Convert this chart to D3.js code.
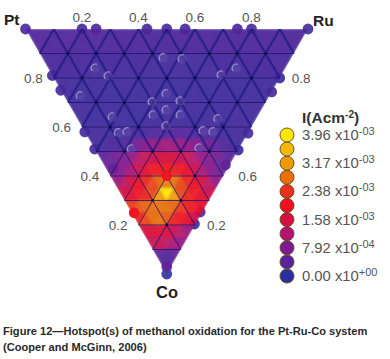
<!DOCTYPE html>
<html><head><meta charset="utf-8">
<script src="https://cdn.jsdelivr.net/npm/d3@7/dist/d3.min.js"></script>
<style>html,body{margin:0;background:#fff}svg{display:block}text{font-family:"Liberation Sans",Arial,sans-serif}</style>
</head><body><svg id="c" width="390" height="359"></svg>
<script>
// current density in units of 1e-3 A/cm2
const legendValues=[0,0.396,0.792,1.188,1.584,1.98,2.376,2.772,3.168,3.564,3.96];
const legendColors=['#2a2f9e','#5a2399','#7d1a90','#b3146f','#d4103f','#ee1020','#e8331c','#e86f0a','#ee9a08','#f2b908','#ffe600'];
const legendLabels=[['0.00','+00',0],['7.92','-04',2],['1.58','-03',4],['2.38','-03',6],['3.17','-03',8],['3.96','-03',10]];
const topTicks=[0.2,0.4,0.6,0.8];
const leftTicks=[0.8,0.6,0.4,0.2];
// right-side labels as printed, with the Co level they sit at
const rightTicks=[[0.8,0.2],[0.6,0.6],[0.2,0.8]];
// coarse cells: 10 divisions per side, first four rows from Pt-Ru edge
const coarseRows=[
[.32,.30,.32,.30,.32,.28,.30,.28,.28,.26,.28,.26,.28,.28,.30,.28,.30,.30,.30],
[.24,.22,.24,.20,.22,.20,.22,.20,.20,.20,.20,.20,.22,.20,.22,.22,.24],
[.20,.16,.18,.16,.18,.16,.18,.16,.16,.18,.16,.18,.16,.18,.18],
[.20,.16,.18,.16,.16,.18,.20,.18,.18,.18,.18,.20,.20]];
// fine cells: 20 divisions per side, rows 8 to 19
const fineRows=[
[.2,.2,.2,.2,.2,.2,.22,.25,.25,.3,.32,.36,.36,.36,.32,.3,.3,.25,.25,.2,.2,.2,.2],
[.2,.2,.25,.25,.3,.45,.7,.85,.95,1.0,1.05,1.05,1.0,.95,.85,.8,.65,.45,.3,.25,.2],
[.4,.55,.7,.8,.95,1.2,1.4,1.5,1.6,1.6,1.6,1.5,1.4,1.2,.95,.8,.7,.55,.4],
[.55,.75,.9,1.1,1.5,1.8,2.0,2.05,2.05,2.1,2.0,1.85,1.5,1.1,.9,.75,.55],
[1.0,1.3,1.6,1.9,2.2,2.5,2.7,2.9,2.8,2.5,2.2,1.95,1.6,1.25,.95],
[1.6,1.8,2.0,2.2,2.5,3.2,3.96,3.2,2.5,2.2,2.0,1.8,1.5],
[2.4,2.6,2.7,2.75,2.8,2.8,2.7,2.4,2.1,2.0,1.8],
[2.2,2.5,2.75,2.8,2.6,2.2,2.0,1.85,1.5],
[1.65,1.7,1.7,1.65,1.45,1.25,1.0],
[1.4,1.45,1.3,1.1,.95],
[.45,.25,.45],
[.5]];
// measured compositions [Ru, Co, current]
const edgePoints=[[0,0,.25],[.2,0,.25],[.25,0,.25],[.43,0,.25],[.5,0,.25],[.565,0,.25],[.75,0,.25],[.8,0,.25],[1,0,.2],
[0,.19,.22],[0,.25,.22],[0,.42,.22],[0,.49,.22],[.025,.57,.15],[.575,.425,.2],[.506,.494,.1],[.8,.2,.1],[.743,.257,.2],[.43,.555,.2],
[.245,.747,.35],[.2,.796,.1],[.015,.97,.4],[0,1,.05],[.01,.75,2.0]];
const hiPoints=[[.167,.16],[.197,.192],[.429,.118],[.494,.122],[.058,.273],[.30,.298],[.366,.265],[.333,.331],[.401,.294],[.277,.351],[.373,.351],[.128,.359],[.117,.424],[.15,.42],[.13,.49],[.30,.396],[.666,.16],[.599,.188],[.498,.367],[.421,.416],[.454,.42],[.372,.486]];
const hotPoints=[[.2,.6,2.0]];

const svg=d3.select('#c');
const sx=d3.scaleLinear().domain([0,1]).range([25.5,308]);
const sy=d3.scaleLinear().domain([0,1]).range([29,274]);
const X=(ru,co)=>sx(ru+co/2), Y=co=>sy(co);
const color=d3.scaleLinear().domain(legendValues).range(legendColors);
const defs=svg.append('defs');
defs.append('filter').attr('id','b1').attr('x','-5%').attr('y','-5%').attr('width','110%').attr('height','110%').append('feGaussianBlur').attr('stdDeviation',1.3);
defs.append('filter').attr('id','b2').append('feGaussianBlur').attr('stdDeviation',.45);
defs.append('clipPath').attr('id','tri').append('path').attr('d',`M${X(0,0)},${Y(0)}L${X(1,0)},${Y(0)}L${X(0,1)},${Y(1)}Z`);
defs.append('clipPath').attr('id','upper').append('rect').attr('x',0).attr('y',0).attr('width',390).attr('height',Y(.5));

function cell(n,r,j){
  const k=Math.floor(j/2), p=(ru,co)=>[X(ru/n,co/n),Y(co/n)];
  const v=j%2===0?[p(k,r),p(k+1,r),p(k,r+1)]:[p(k+1,r),p(k,r+1),p(k+1,r+1)];
  return d3.line()(v)+'Z';
}
// measured points sit under the surface so they only bulge past its edge
const pts0=svg.append('g').attr('opacity',.9).attr('filter','url(#b2)');
edgePoints.forEach(d=>pts0.append('circle').attr('cx',X(d[0],d[1])).attr('cy',Y(d[1])).attr('r',5.4).attr('fill',color(d[2])));

const surf=svg.append('g').attr('clip-path','url(#tri)').attr('opacity',.94).append('g').attr('filter','url(#b1)');
surf.append('path').attr('d',`M${X(0,0)},${Y(0)}L${X(1,0)},${Y(0)}L${X(0,1)},${Y(1)}Z`).attr('fill',color(.2));
coarseRows.forEach((row,r)=>row.forEach((v,j)=>surf.append('path').attr('d',cell(10,r,j)).attr('fill',color(v)).attr('stroke',color(v)).attr('stroke-width',.5)));
fineRows.forEach((row,i)=>row.forEach((v,j)=>surf.append('path').attr('d',cell(20,i+8,j)).attr('fill',color(v)).attr('stroke',color(v)).attr('stroke-width',.5)));

// grid
const gridT=d3.range(1,10).map(d=>d/10);
const segs=[];
gridT.forEach(t=>{
  segs.push([[0,t],[1-t,t]]);       // constant Co
  segs.push([[t,0],[t,1-t]]);       // constant Ru
  segs.push([[t,0],[0,t]]);         // constant Pt
});
const P=d=>[X(d[0],d[1]),Y(d[1])];
const halo=svg.append('g').attr('clip-path','url(#upper)').append('g').attr('clip-path','url(#tri)');
segs.forEach(s=>halo.append('path').attr('d',d3.line()(s.map(P))).attr('fill','none').attr('stroke','#1a1a8c').attr('stroke-width',3).attr('stroke-opacity',.35).attr('filter','url(#b2)'));
const grid=svg.append('g').attr('filter','url(#b2)');
segs.forEach(s=>grid.append('path').attr('d',d3.line()(s.map(P))).attr('fill','none').attr('stroke','#16126a').attr('stroke-width',.95).attr('stroke-opacity',.8));
gridT.forEach(co=>d3.range(1,Math.round((1-co)*10)).forEach(k=>grid.append('circle').attr('cx',X(k/10,co)).attr('cy',Y(co)).attr('r',1.4).attr('fill','#0a0a40')));

// points shown over the surface
const pts=svg.append('g').attr('filter','url(#b2)');
hotPoints.forEach(d=>pts.append('circle').attr('cx',X(d[0],d[1])).attr('cy',Y(d[1])).attr('r',5).attr('fill',color(d[2])));
edgePoints.filter(d=>d[2]>1).forEach(d=>pts.append('circle').attr('cx',X(d[0],d[1])).attr('cy',Y(d[1])).attr('r',5).attr('fill',color(d[2])));
const arc=d3.arc().innerRadius(3.6).outerRadius(4.7).startAngle(-2.3).endAngle(.4);
hiPoints.forEach(d=>{
  pts.append('circle').attr('cx',X(d[0],d[1])).attr('cy',Y(d[1])).attr('r',4.7).attr('fill','#5c4aa8').attr('fill-opacity',.55);
  pts.append('path').attr('d',arc()).attr('transform',`translate(${X(d[0],d[1])},${Y(d[1])})`).attr('fill','#b3a8dc').attr('fill-opacity',.75);
});

// labels
const tick=(x,y,t,a='middle')=>svg.append('text').attr('x',x).attr('y',y).attr('text-anchor',a).attr('font-size',13.5).attr('fill','#555').text(t);
topTicks.forEach(t=>tick(X(t,0),22,t.toFixed(1)));
leftTicks.forEach(t=>tick(X(0,1-t)-11,Y(1-t)+4.5,t.toFixed(1),'end'));
rightTicks.forEach(d=>tick(X(1-d[1],d[1])+(d[0]===0.6?15:12),Y(d[1])+4.5,d[0].toFixed(1),'start'));
const vert=(x,y,t,a,s)=>svg.append('text').attr('x',x).attr('y',y).attr('text-anchor',a).attr('font-size',s).attr('font-weight','bold').attr('fill','#222').text(t);
vert(4,25,'Pt','start',15.5); vert(313,26,'Ru','start',15.5); vert(167,298,'Co','middle',16.5);

// legend
const ly=d3.scaleLinear().domain([0,10]).range([276,135]);
const lg=svg.append('g');
legendValues.forEach((v,i)=>lg.append('circle').attr('cx',287).attr('cy',ly(i)).attr('r',7).attr('fill',color(v)).attr('stroke','#5a4a20').attr('stroke-width',.9));
const title=svg.append('text').attr('x',302).attr('y',123).attr('font-size',15.5).attr('font-weight','bold').attr('fill','#333');
title.append('tspan').text('I(Acm');
title.append('tspan').attr('dy',-5).attr('font-size',10).text('-2');
title.append('tspan').attr('dy',5).text(')');
legendLabels.forEach(d=>{
  const t=svg.append('text').attr('x',302).attr('y',ly(d[2])+5).attr('font-size',14.8).attr('fill','#555');
  t.append('tspan').text(d[0]+' x10');
  t.append('tspan').attr('dy',-5).attr('font-size',11).text(d[1]);
});

// caption
[['Figure 12\u2014Hotspot(s) of methanol oxidation for the Pt-Ru-Co system',334.5],['(Cooper and McGinn, 2006)',351]].forEach(d=>
  svg.append('text').attr('x',3).attr('y',d[1]).attr('font-size',11.1).attr('font-weight','bold').attr('fill','#2a2a2a').text(d[0]));
</script></body></html>
